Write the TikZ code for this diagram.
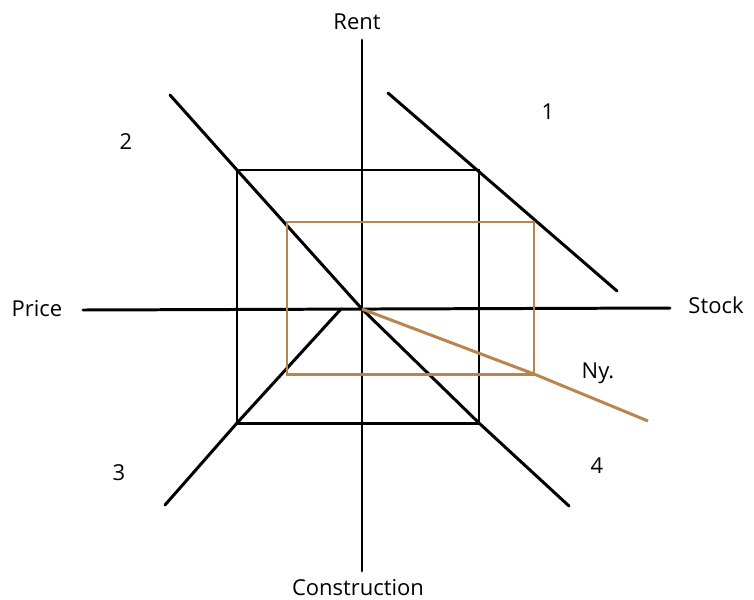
\documentclass[tikz,border=0pt]{standalone}
\usepackage{fontspec}
\setmainfont{Open Sans}
\usepackage{xcolor}
\definecolor{nybrown}{RGB}{184,134,76}
\tikzset{
    ax/.style={line width=1.7pt, line cap=round},
    sq/.style={line width=1.7pt, line join=miter},
    ny/.style={nybrown, line width=1.7pt},
    lbl/.style={font=\fontsize{12.5}{14}\selectfont, inner sep=0pt}
}

\begin{document}
\begin{tikzpicture}[x=0.02cm, y=-0.02cm]
    \useasboundingbox (0,0) rectangle (754,599);
    % axes
    \coordinate (o) at (362,309);
    \coordinate (top) at (362,40);
    \coordinate (bot) at (362,571);
    \coordinate (lft) at (83,310);
    \coordinate (rgt) at (670,308);
    \node[lbl] (rent) at (357,22) {Rent};
    \node[lbl] (constr) at (358,588) {Construction};
    \node[lbl] (price) at (37,309) {Price};
    \node[lbl] (stock) at (716,305) {Stock};
    \draw[ax] (top) -- (bot);
    \draw[ax] (lft) -- (rgt);

    % old equilibrium
    \coordinate (tl) at (237,170);
    \coordinate (tr) at (479,170);
    \coordinate (br) at (479,423);
    \coordinate (bl) at (237,423);
    \draw[sq] (tl) -- (tr) -- (br) -- (bl) -- cycle;

    % quadrant lines
    \coordinate (q1a) at (388,93);
    \coordinate (q1b) at (617,291);
    \coordinate (q2a) at (170,95);
    \coordinate (q4b) at (569,506);
    \coordinate (q3a) at (165,505);
    \coordinate (q3b) at (341,309);
    \draw[ax] (q1a) -- (q1b);
    \draw[ax] (q2a) -- (tl) -- (o) -- (br) -- (q4b);
    \draw[ax] (q3a) -- (bl) -- (q3b);
    \node[lbl] (n1) at (548,112) {1};
    \node[lbl] (n2) at (126,142) {2};
    \node[lbl] (n3) at (119,473) {3};
    \node[lbl] (n4) at (597,466) {4};

    % new equilibrium
    \coordinate (ntl) at (287,222);
    \coordinate (ntr) at (534,222);
    \coordinate (nbr) at (534,374);
    \coordinate (nbl) at (287,374);
    \coordinate (nyend) at (648,421);
    \draw[ny] (ntl) -- (ntr) -- (nbr) -- (nbl) -- cycle;
    \draw[ny] (o) -- (nbr) -- (nyend);
    \node[lbl] (nylbl) at (598,373) {Ny.};
\end{tikzpicture}
\end{document}
